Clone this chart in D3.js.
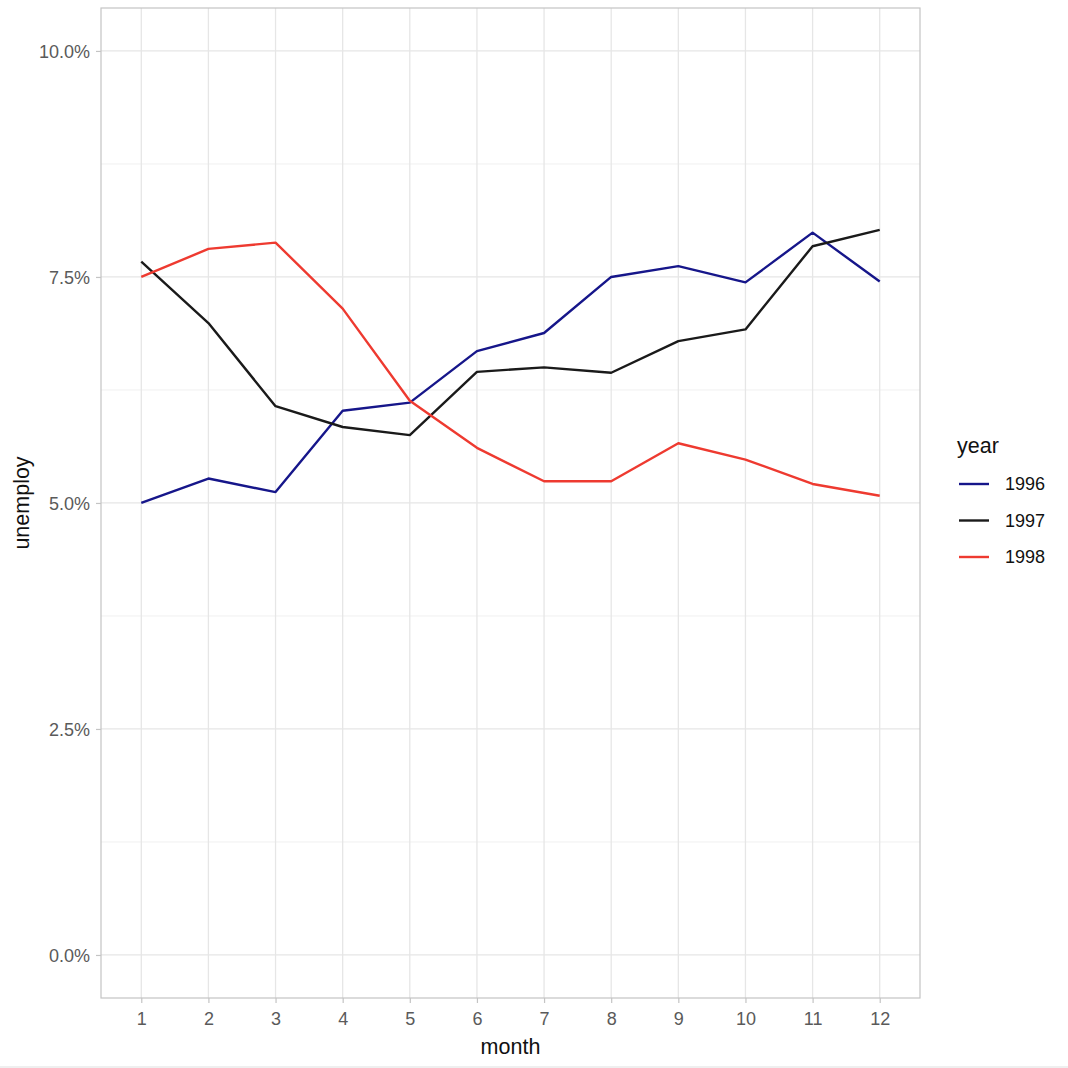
<!DOCTYPE html>
<meta charset="utf-8">
<script src="https://d3js.org/d3.v7.min.js"></script>
<style>
  body { margin: 0; background: #fff; }
  text { font-family: "Liberation Sans", Arial, Helvetica, sans-serif; }
</style>
<div id="my_dataviz"></div>
<script>

// data (unemployment rate, %)
var months = [1, 2, 3, 4, 5, 6, 7, 8, 9, 10, 11, 12]
var years = ["1996", "1997", "1998"]
var u1996 = [5.00, 5.27, 5.12, 6.02, 6.11, 6.68, 6.88, 7.50, 7.62, 7.44, 7.99, 7.45]
var u1997 = [7.67, 6.99, 6.07, 5.84, 5.75, 6.45, 6.50, 6.44, 6.79, 6.92, 7.84, 8.02]
var u1998 = [7.50, 7.81, 7.88, 7.15, 6.13, 5.61, 5.24, 5.24, 5.66, 5.48, 5.21, 5.08]
var yTicks = [0, 0.025, 0.05, 0.075, 0.10]
var yMinor = [0.0125, 0.0375, 0.0625, 0.0875]

var series = [u1996, u1997, u1998].map(function(vals, i) {
  return { year: years[i], values: vals.map(function(v, j) { return { month: months[j], rate: v / 100 } }) }
})

var W = 1068, H = 1068
var panel = { left: 101, right: 920, top: 8, bottom: 998 }

var svg = d3.select("#my_dataviz")
  .append("svg")
    .attr("width", W)
    .attr("height", H)

svg.append("rect").attr("width", W).attr("height", H).attr("fill", "#fff")
// faint line at page bottom
svg.append("rect").attr("x", 0).attr("y", 1066).attr("width", W).attr("height", 2).attr("fill", "#efefef")

var x = d3.scaleLinear()
  .domain([0.4, 12.6])
  .range([panel.left, panel.right])

var y = d3.scaleLinear()
  .domain([-0.00476, 0.10475])
  .range([panel.bottom, panel.top])

var color = d3.scaleOrdinal()
  .domain(years)
  .range(["#16168a", "#1a1a1a", "#ee3a30"])

// grid
var grid = svg.append("g")
grid.selectAll(".minor")
  .data(yMinor)
  .enter().append("line")
    .attr("x1", panel.left).attr("x2", panel.right)
    .attr("y1", function(d) { return y(d) }).attr("y2", function(d) { return y(d) })
    .attr("stroke", "#f0f0f0").attr("stroke-width", 1)
grid.selectAll(".majorY")
  .data(yTicks)
  .enter().append("line")
    .attr("x1", panel.left).attr("x2", panel.right)
    .attr("y1", function(d) { return y(d) }).attr("y2", function(d) { return y(d) })
    .attr("stroke", "#e6e6e6").attr("stroke-width", 1.3)
grid.selectAll(".majorX")
  .data(months)
  .enter().append("line")
    .attr("y1", panel.top).attr("y2", panel.bottom)
    .attr("x1", function(d) { return x(d) }).attr("x2", function(d) { return x(d) })
    .attr("stroke", "#e6e6e6").attr("stroke-width", 1.3)

// panel border
svg.append("rect")
  .attr("x", panel.left).attr("y", panel.top)
  .attr("width", panel.right - panel.left).attr("height", panel.bottom - panel.top)
  .attr("fill", "none").attr("stroke", "#c4c4c4").attr("stroke-width", 1.2)

// axes
var xAxis = svg.append("g")
  .attr("transform", "translate(0," + panel.bottom + ")")
  .call(d3.axisBottom(x).tickValues(months).tickSize(5).tickPadding(6).tickFormat(d3.format("d")))
var yAxis = svg.append("g")
  .attr("transform", "translate(" + panel.left + ",0)")
  .call(d3.axisLeft(y).tickValues(yTicks).tickSize(5).tickPadding(6).tickFormat(d3.format(".1%")))

;[xAxis, yAxis].forEach(function(a) {
  a.select(".domain").remove()
  a.selectAll(".tick line").attr("stroke", "#c4c4c4").attr("stroke-width", 1.2)
  a.selectAll(".tick text")
    .attr("fill", "#5a5a5a")
    .style("font-size", "18px")
    .style("font-family", "Liberation Sans, Arial, sans-serif")
})
xAxis.selectAll(".tick text").attr("dy", "0.9em")
yAxis.selectAll(".tick text").attr("dy", "0.36em")

// lines
var line = d3.line()
  .x(function(d) { return x(d.month) })
  .y(function(d) { return y(d.rate) })

svg.selectAll(".series")
  .data(series)
  .enter().append("path")
    .attr("d", function(d) { return line(d.values) })
    .attr("fill", "none")
    .attr("stroke", function(d) { return color(d.year) })
    .attr("stroke-width", 2.4)
    .attr("stroke-linejoin", "round")

// axis titles
svg.append("text")
  .attr("x", (panel.left + panel.right) / 2).attr("y", 1054)
  .attr("text-anchor", "middle")
  .style("font-size", "21.5px").attr("fill", "#111")
  .text("month")
svg.append("text")
  .attr("transform", "translate(29," + ((panel.top + panel.bottom) / 2) + ")rotate(-90)")
  .attr("text-anchor", "middle")
  .style("font-size", "21.5px").attr("fill", "#111")
  .text("unemploy")

// legend
var legend = svg.append("g").attr("transform", "translate(957,0)")
legend.append("text")
  .attr("x", 0).attr("y", 453)
  .style("font-size", "21.5px").attr("fill", "#111")
  .text("year")
var items = legend.selectAll(".item")
  .data(years)
  .enter().append("g")
    .attr("transform", function(d, i) { return "translate(0," + (484 + i * 36.5) + ")" })
items.append("line")
  .attr("x1", 2).attr("x2", 32)
  .attr("stroke", function(d) { return color(d) })
  .attr("stroke-width", 2.4)
items.append("text")
  .attr("x", 48).attr("dy", "0.36em")
  .style("font-size", "18px").attr("fill", "#111")
  .text(function(d) { return d })

</script>
